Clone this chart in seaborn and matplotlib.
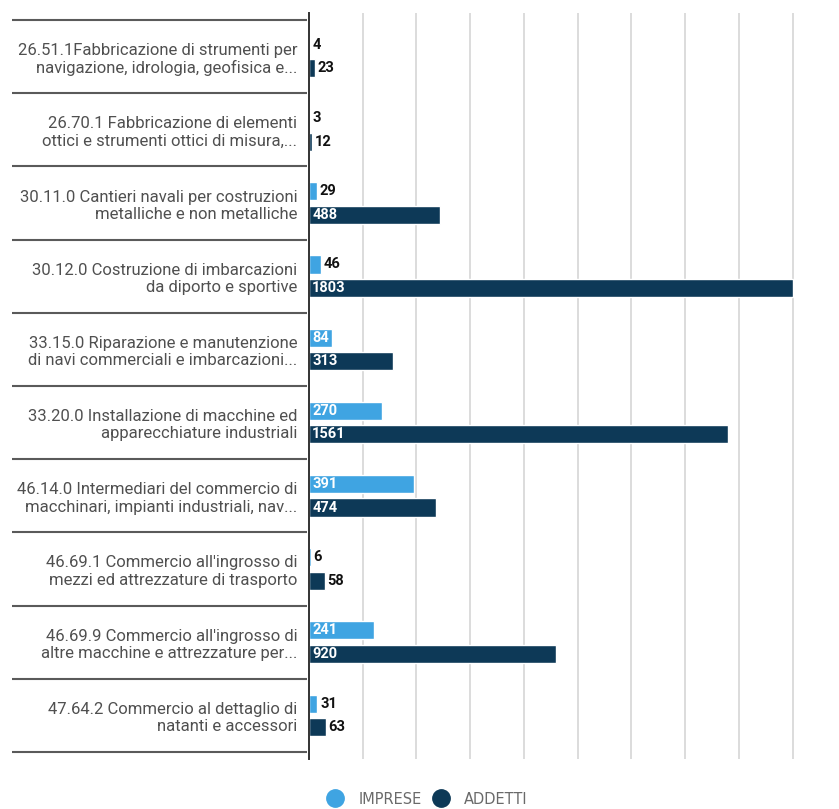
import matplotlib
matplotlib.use("Agg")
import matplotlib.pyplot as plt
import matplotlib.transforms as mtransforms
from matplotlib.lines import Line2D
import seaborn as sns
import pandas as pd

categories = [
    "26.51.1Fabbricazione di strumenti per\nnavigazione, idrologia, geofisica e...",
    "26.70.1 Fabbricazione di elementi\nottici e strumenti ottici di misura,...",
    "30.11.0 Cantieri navali per costruzioni\nmetalliche e non metalliche",
    "30.12.0 Costruzione di imbarcazioni\nda diporto e sportive",
    "33.15.0 Riparazione e manutenzione\ndi navi commerciali e imbarcazioni...",
    "33.20.0 Installazione di macchine ed\napparecchiature industriali",
    "46.14.0 Intermediari del commercio di\nmacchinari, impianti industriali, nav...",
    "46.69.1 Commercio all'ingrosso di\nmezzi ed attrezzature di trasporto",
    "46.69.9 Commercio all'ingrosso di\naltre macchine e attrezzature per...",
    "47.64.2 Commercio al dettaglio di\nnatanti e accessori",
]
imprese = [4, 3, 29, 46, 84, 270, 391, 6, 241, 31]
addetti = [23, 12, 488, 1803, 313, 1561, 474, 58, 920, 63]
series_names = ["IMPRESE", "ADDETTI"]
x_ticks = [0, 200, 400, 600, 800, 1000, 1200, 1400, 1600, 1800]

colors = {"IMPRESE": "#3fa4e2", "ADDETTI": "#0d3957"}

df = pd.DataFrame({
    "cat": categories * 2,
    "serie": [series_names[0]] * len(categories) + [series_names[1]] * len(categories),
    "val": imprese + addetti,
})

sns.set_theme(style="white")
plt.rcParams["font.family"] = ["Roboto", "DejaVu Sans"]

W, H = 839, 809
fig = plt.figure(figsize=(W / 100, H / 100), dpi=100)
ax_left, ax_right = 309 / W, 814 / W
ax_top, ax_bottom = 1 - 12.7 / H, 1 - 759.3 / H
ax = fig.add_axes([ax_left, ax_bottom, ax_right - ax_left, ax_top - ax_bottom])

sns.barplot(data=df, y="cat", x="val", hue="serie", order=categories,
            hue_order=series_names, palette=colors, orient="h",
            width=0.64, gap=0.23, dodge=True, ax=ax, legend=False,
            saturation=1)

ax.set_xlim(0, 1880)
ax.set_ylim(len(categories) - 0.4, -0.6)
ax.set_xticks(x_ticks)
ax.set_xticklabels([])
ax.tick_params(axis="x", length=0)
ax.tick_params(axis="y", length=0, pad=8.5)
ax.xaxis.grid(True, color="#d9d9d9", linewidth=1.3)
ax.yaxis.grid(False)
ax.set_axisbelow(True)
ax.set_xlabel("")
ax.set_ylabel("")
for s in ["top", "right", "bottom"]:
    ax.spines[s].set_visible(False)
ax.spines["left"].set_color("#333333")
ax.spines["left"].set_linewidth(1.4)

for lbl in ax.get_yticklabels():
    lbl.set_fontsize(12.0)
    lbl.set_color("#505050")
    lbl.set_horizontalalignment("right")
    lbl.set_multialignment("right")
    lbl.set_linespacing(1.2)

# separators
trans = mtransforms.blended_transform_factory(fig.transFigure, ax.transData)
for i in range(len(categories) + 1):
    y = i - 0.5
    ax.plot([12 / W, 307 / W], [y, y], transform=trans, color="#5a5a5a",
            linewidth=1.5, clip_on=False, solid_capstyle="butt")

# value labels
for cont, vals in zip(ax.containers, [imprese, addetti]):
    for bar, v in zip(cont.patches, vals):
        yc = bar.get_y() + bar.get_height() / 2
        if v >= 70:
            ax.text(12, yc, f"{v}", ha="left", va="center", color="white",
                    fontsize=10.5, fontweight="bold")
        else:
            ax.text(v + 10, yc, f"{v}", ha="left", va="center", color="#111111",
                    fontsize=10.5, fontweight="bold")

handles = [Line2D([0], [0], marker="o", linestyle="", markersize=12.5,
                  markerfacecolor=colors[n], markeredgecolor=colors[n]) for n in series_names]
leg = fig.legend(handles, series_names, loc="center", bbox_to_anchor=(0.509, 1 - 799 / H),
                 ncol=2, frameon=False, fontsize=10.5, labelcolor="#6a6a6a",
                 handlelength=1.2, handletextpad=1.0, columnspacing=0.7)
for t in leg.get_texts():
    t.set_family(["DejaVu Sans"])

fig.savefig("out.png", dpi=100)
